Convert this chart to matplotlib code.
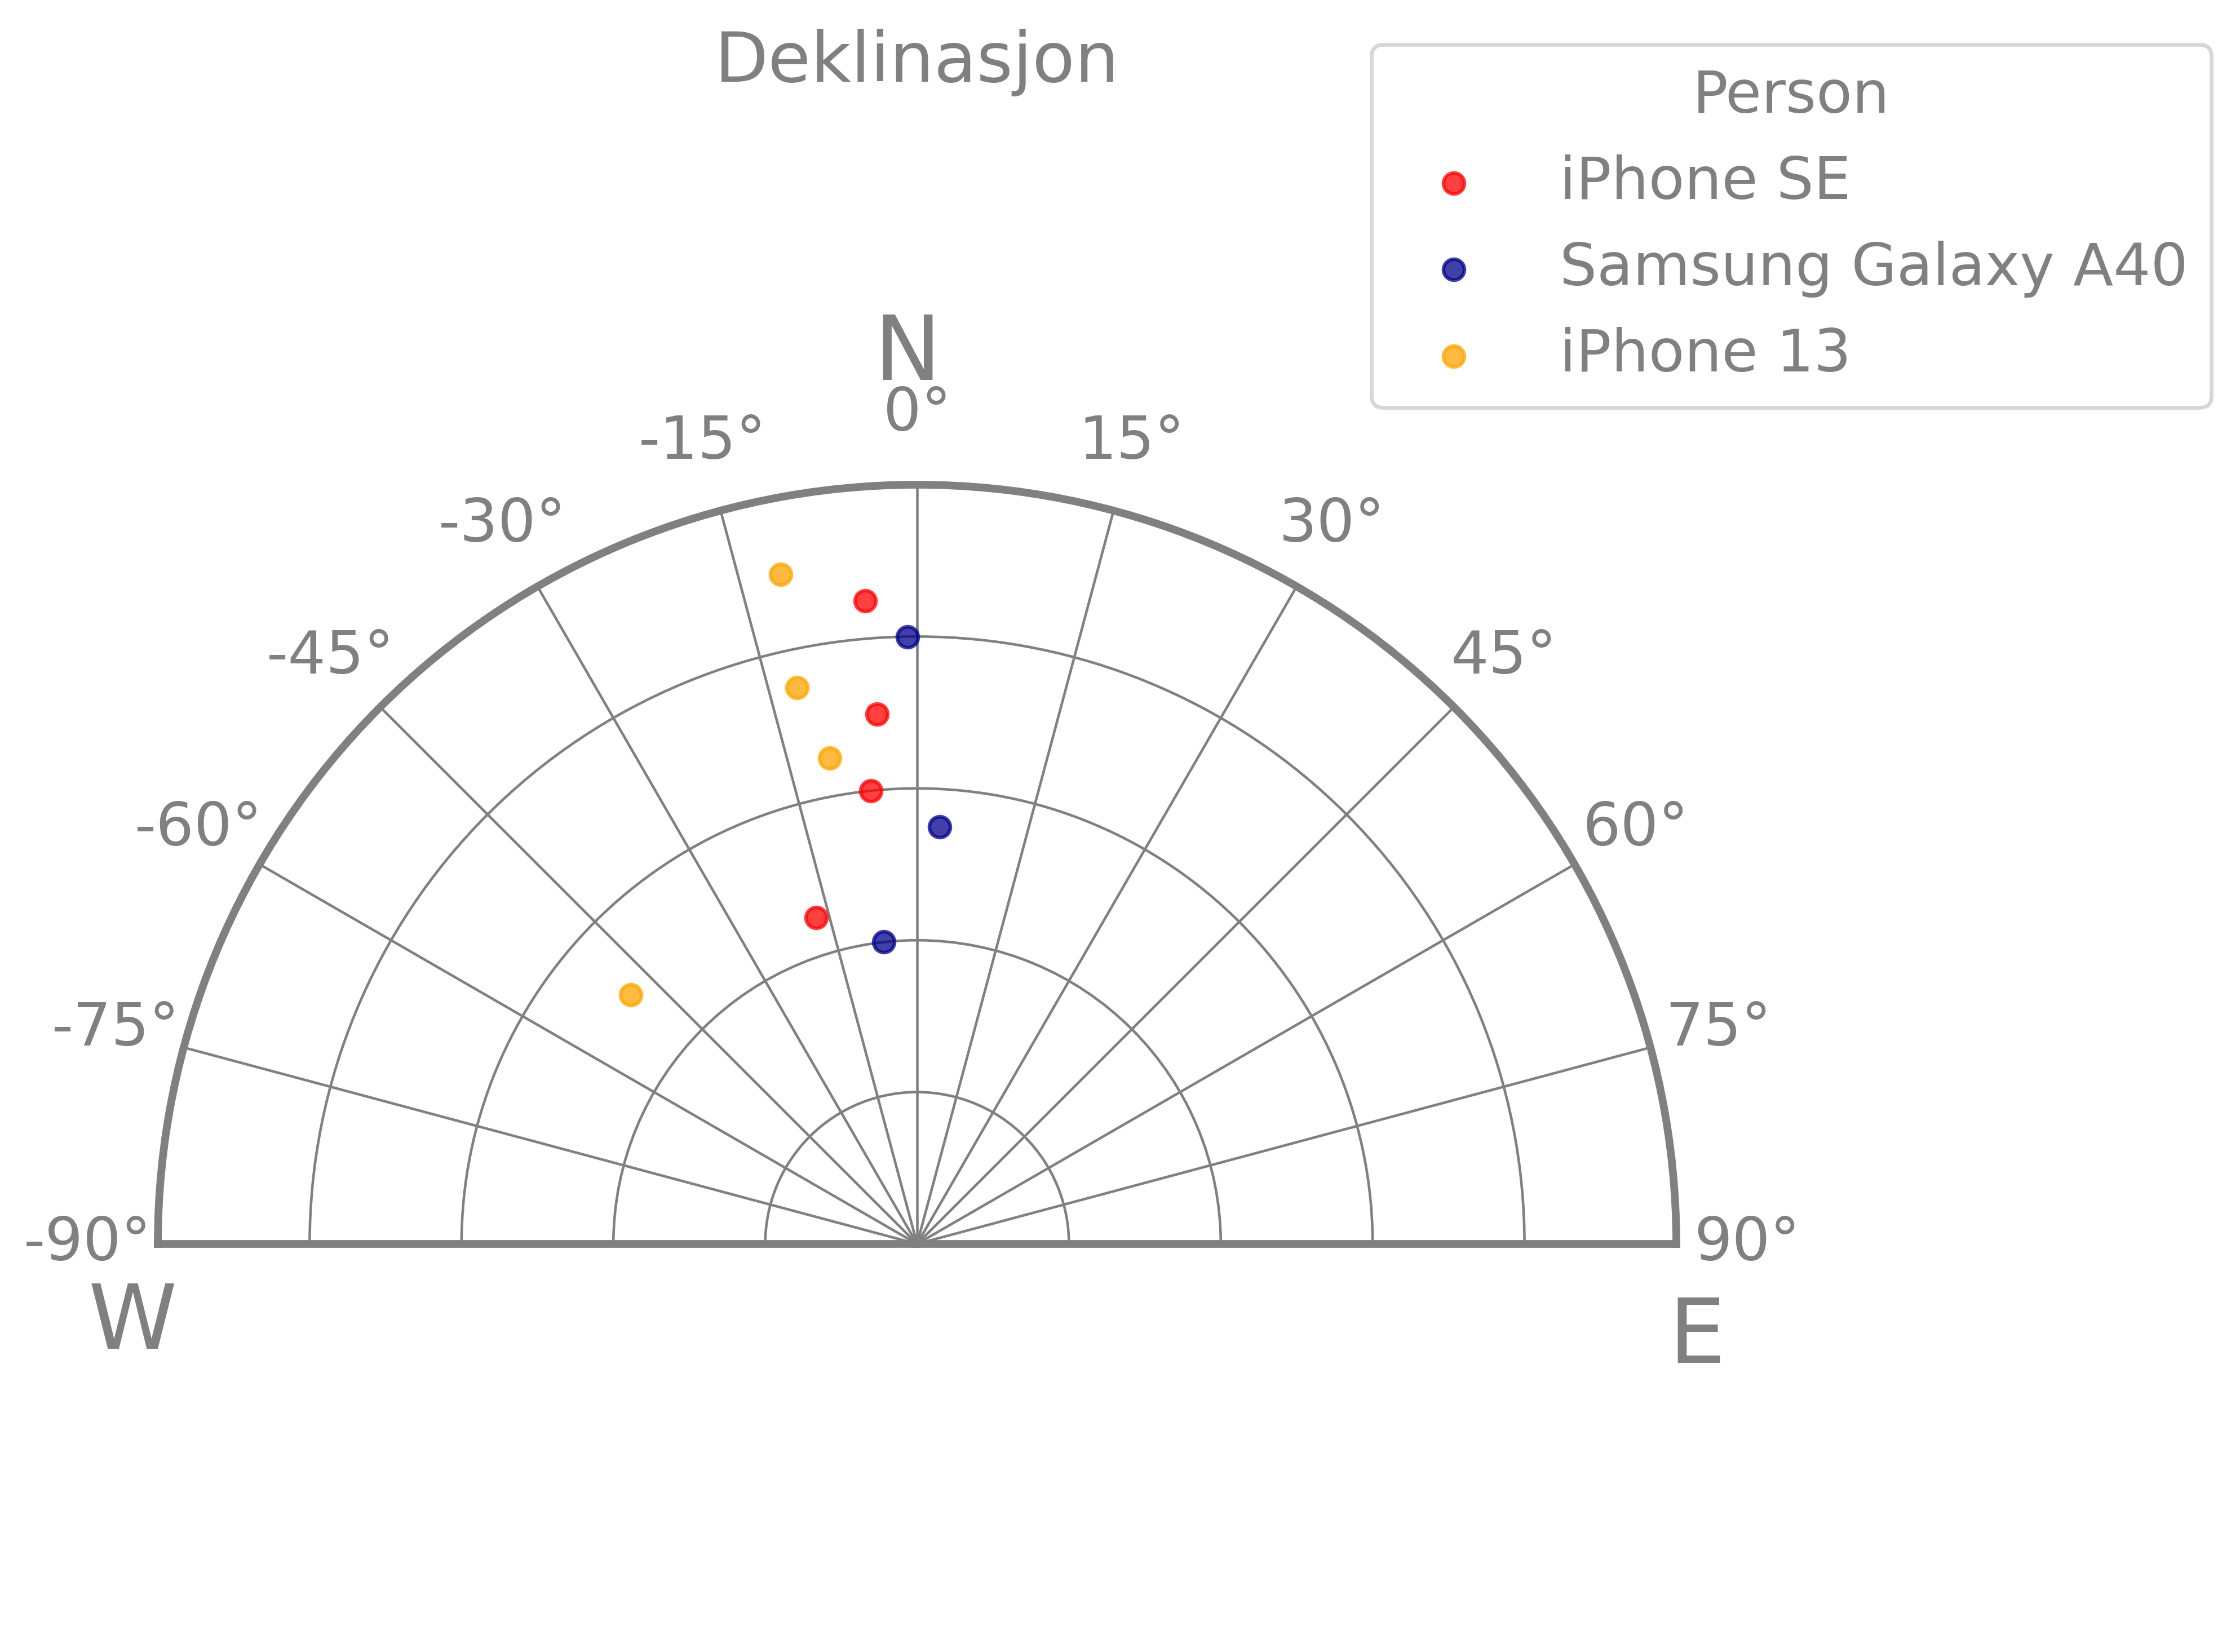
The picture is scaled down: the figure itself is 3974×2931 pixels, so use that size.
import numpy as np
import matplotlib
matplotlib.use("Agg")
import matplotlib.pyplot as plt

# ---- data (theta in degrees, r in ring units) ----
series_names = ["iPhone SE", "Samsung Galaxy A40", "iPhone 13"]
series_colors = ["red", "darkblue", "orange"]

se_theta = [-4.6, -4.3, -5.8, -17.2]
se_r = [4.25, 3.5, 3.0, 2.25]

a40_theta = [-0.9, 3.1, -6.3]
a40_r = [4.0, 2.75, 2.0]

ip13_theta = [-11.5, -12.2, -10.2, -49.0]
ip13_r = [4.5, 3.75, 3.25, 2.5]

theta_ticks = [-90, -75, -60, -45, -30, -15, 0, 15, 30, 45, 60, 75, 90]
theta_tick_labels = [f"{t}°" for t in theta_ticks]
r_rings = [1, 2, 3, 4]
r_max = 5

title = "Deklinasjon"
legend_title = "Person"

GRAY = "#808080"
W, H = 3974, 2931
DPI = 300
def px2pt(px):
    return px * 72.0 / DPI

fig = plt.figure(figsize=(W / DPI, H / DPI), dpi=DPI)

# origin at (1627, 2207) px from top-left, outer radius 1347 px
cx, cy, R = 1627, 2207, 1347
side = 2 * R
left = cx - R
bottom = (H - cy) - 0.25 * side
ax = fig.add_axes([left / W, bottom / H, side / W, side / H], projection="polar")

ax.set_theta_zero_location("N")
ax.set_theta_direction(-1)
ax.set_thetamin(-90)
ax.set_thetamax(90)
ax.set_rlim(0, r_max)

datasets = [(se_theta, se_r), (a40_theta, a40_r), (ip13_theta, ip13_r)]
for (th, rr), name, col in zip(datasets, series_names, series_colors):
    ax.scatter(np.deg2rad(th), rr, s=80, color=col, alpha=0.75,
               label=name, zorder=5, linewidths=1.5)

ax.set_thetagrids(theta_ticks, labels=theta_tick_labels)
ax.set_rgrids(r_rings)
ax.set_yticklabels([])
ax.tick_params(axis="x", labelsize=25.5, labelcolor=GRAY, pad=23, length=0)
ax.tick_params(axis="y", length=0)
ax.grid(True, color=GRAY, linewidth=1.1)
for sp in ax.spines.values():
    sp.set_color(GRAY)
    sp.set_linewidth(3.3)

# title
fig.text(cx / W, 1 - 145 / H, title, ha="center", va="baseline",
         fontsize=px2pt(90 / 0.729), color=GRAY)

# compass letters
cfs = px2pt(116 / 0.729)
fig.text(1610 / W, 1 - 674 / H, "N", ha="center", va="baseline", fontsize=cfs, color=GRAY)
fig.text(235 / W, 1 - 2393 / H, "W", ha="center", va="baseline", fontsize=cfs, color=GRAY)
fig.text(3011 / W, 1 - 2418 / H, "E", ha="center", va="baseline", fontsize=cfs, color=GRAY)

leg = ax.legend(loc="upper right", bbox_to_anchor=(3923 / W, 1 - 79 / H),
                bbox_transform=fig.transFigure, borderaxespad=0,
                title=legend_title, fontsize=25, title_fontsize=25,
                labelcolor=GRAY, labelspacing=0.5, frameon=True)
leg.get_title().set_color(GRAY)
leg.get_frame().set_linewidth(1.6)

fig.savefig("out.png", dpi=DPI)
